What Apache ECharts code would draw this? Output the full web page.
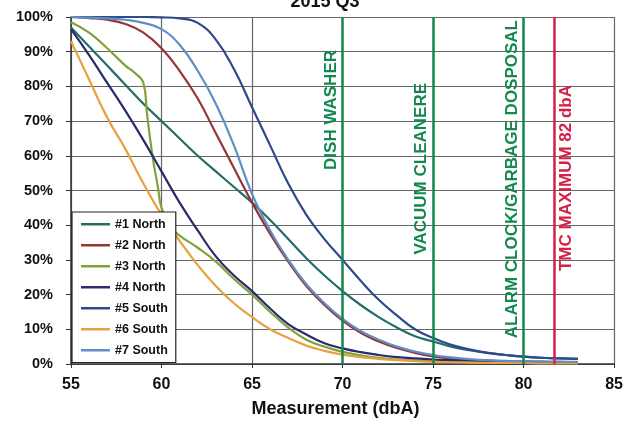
<!DOCTYPE html>
<html>
<head>
<meta charset="utf-8">
<script src="https://cdn.jsdelivr.net/npm/echarts@6/dist/echarts.min.js"></script>
<style>html,body{margin:0;padding:0;background:#fff;}#c{width:626px;height:425px;}</style>
</head>
<body>
<div id="c"></div>
<script>
// ---- data ----
const xs = [55,56,57,58,59,60,61,62,63,64,65,66,67,68,69,70,71,72,73,74,75,76,77,78,79,80,81,82,83];
const n1North = [97,91.5,86,80.5,75,70,65,60,55.5,51,46.5,41.5,36,30.5,25.5,21,17,13.5,10.5,8,6.5,5,4,3.2,2.6,2.1,1.8,1.6,1.5];
const n2North = [100,99.7,99.2,98,95.5,91,84.5,76.5,66.5,56.5,46.5,37.5,29.5,22.5,17,12.5,9,6.5,4.6,3.2,2.2,1.6,1.2,1,0.8,0.7,0.6,0.5,0.5];
const xs3 = [55,56,57,58,58.5,59,59.2,59.5,59.8,60,60.5,61,62,63,64,65,66,67,68,69,70,71,72,73,74,75,76,77,78,79,80,81,82,83];
const n3North = [98.5,95.5,91,86,84,81,72,60,51,45,39.5,37,33.5,29.5,24.5,20,15,10.5,7,5,3.5,2.5,1.8,1.3,1,0.8,0.6,0.5,0.4,0.4,0.3,0.3,0.3,0.3];
const n4North = [96.5,89,81,73,64.5,55.5,46.5,38.5,31,25.5,21,16,11.5,8.5,6,4.5,3.4,2.6,2,1.6,1.3,1.1,1,0.9,0.8,0.7,0.6,0.6,0.5];
const s5South = [100,100,100,100,100,99.9,99.6,98.3,93.5,85,74,63,52,43,36,30,24,18.5,14,10,7.5,5.5,4.2,3.2,2.6,2.1,1.8,1.6,1.5];
const s6South = [93,82,71,62,52,43,35.5,28.5,22.5,17.5,13.5,10,7.5,5.3,3.8,2.7,2,1.5,1.1,0.8,0.6,0.5,0.4,0.3,0.3,0.3,0.2,0.2,0.2];
const s7South = [100,99.8,99.6,99.2,98.3,96.5,92,84.5,75,63,49,38.5,30,23,17.5,13,9.5,7,5,3.6,2.6,1.9,1.4,1.1,0.9,0.8,0.7,0.6,0.6];
const seriesNames = ['#1 North','#2 North','#3 North','#4 North','#5 South','#6 South','#7 South'];
const refNames = ['DISH WASHER','VACUUM CLEANERE','ALARM CLOCK/GARBAGE DOSPOSAL','TMC MAXIMUM 82 dbA'];
const refValues = [70,75,80,81.7];
const titleText = '2015 Q3';

// ---- styles ----
const colors = ['#236e66','#943634','#7fa33a','#2a2a6e','#2f4a8c','#e8a040','#5f8fc6'];
const refColors = ['#14884e','#14884e','#14884e','#d42048'];
const refSide = ['insideEndTop','insideEndTop','insideEndTop','insideEndBottom'];
const refAlong = [33,66,3,68];

const zip = (x, y) => x.map((v, i) => [v, y[i]]);
const ys = [n1North,n2North,n3North,n4North,s5South,s6South,s7South];
const series = ys.map((y, i) => ({
  name: seriesNames[i],
  type: 'line',
  data: zip(i === 2 ? xs3 : xs, y),
  showSymbol: false,
  symbol: 'none',
  smooth: 0.45,
  lineStyle: { width: 2.2, color: colors[i] },
  itemStyle: { color: colors[i] },
  z: 3
}));
series.push({
  type: 'line',
  data: [],
  silent: true,
  markLine: {
    silent: true,
    symbol: 'none',
    animation: false,
    data: refValues.map((v, i) => ({
      xAxis: v,
      lineStyle: { color: refColors[i], width: 2.5, type: 'solid' },
      label: {
        show: true,
        formatter: refNames[i],
        position: refSide[i],
        distance: [refAlong[i], 3],
        color: refColors[i],
        fontFamily: 'Liberation Sans',
        fontWeight: 'bold',
        fontSize: 17
      }
    }))
  },
  z: 4
});

const chart = echarts.init(document.getElementById('c'), null, { renderer: 'canvas' });
chart.setOption({
  animation: false,
  backgroundColor: '#fff',
  title: {
    text: titleText, left: 320, top: -12, textAlign: 'center',
    textStyle: { fontFamily: 'Liberation Sans', fontWeight: 'bold', fontSize: 18, color: '#111' }
  },
  grid: { left: 71, right: 11, top: 17, bottom: 61, containLabel: false },
  legend: {
    data: seriesNames.map(nm => ({ name: nm, icon: 'rect' })),
    orient: 'vertical',
    left: 72, top: 212,
    padding: [5, 8, 5, 9],
    itemWidth: 29, itemHeight: 2.5, itemGap: 6.5,
    backgroundColor: '#fff',
    borderColor: '#222', borderWidth: 1.2,
    textStyle: { fontFamily: 'Liberation Sans', fontWeight: 'bold', fontSize: 12.5, color: '#111', lineHeight: 14.5 },
    z: 10
  },
  xAxis: {
    type: 'value', min: 55, max: 85, interval: 5,
    name: 'Measurement (dbA)', nameLocation: 'middle', nameGap: 36,
    nameTextStyle: { fontFamily: 'Liberation Sans', fontWeight: 'bold', fontSize: 18, color: '#111', padding: [0, 14, 0, 0] },
    axisLine: { lineStyle: { color: '#333', width: 1.5 } },
    axisTick: { show: true, length: 4, lineStyle: { color: '#333' } },
    axisLabel: { fontFamily: 'Liberation Sans', fontWeight: 'bold', fontSize: 16, color: '#111', margin: 13 },
    splitLine: { show: true, lineStyle: { color: '#666', width: 1.2 } }
  },
  yAxis: {
    type: 'value', min: 0, max: 100, interval: 10,
    axisLine: { show: true, lineStyle: { color: '#333', width: 1.5 } },
    axisTick: { show: true, length: 5, lineStyle: { color: '#333' } },
    axisLabel: { formatter: '{value}%', fontFamily: 'Liberation Sans', fontWeight: 'bold', fontSize: 14.5, color: '#111', margin: 18 },
    splitLine: { show: true, lineStyle: { color: '#666', width: 1.2 } }
  },
  series: series
});
</script>
</body>
</html>
